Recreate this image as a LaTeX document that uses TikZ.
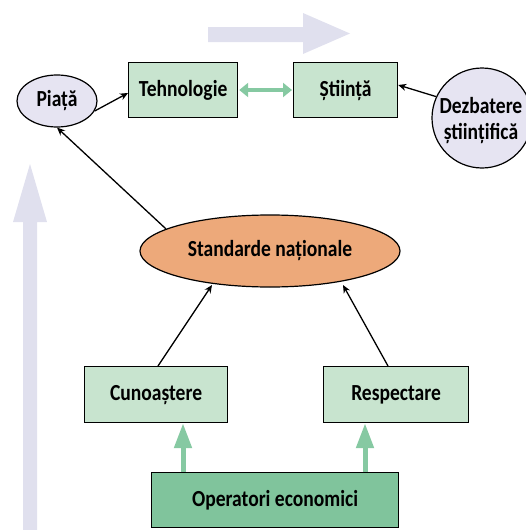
\documentclass[tikz,border=0pt]{standalone}
\usepackage{fontspec}
\setmainfont{Carlito}[FakeStretch=0.85]
\usetikzlibrary{arrows.meta,shapes.geometric}
\definecolor{boxgreen}{HTML}{C8E4CF}
\definecolor{opgreen}{HTML}{80C49C}
\definecolor{arrgreen}{HTML}{86C9A2}
\definecolor{lav}{HTML}{E6E4F2}
\definecolor{bigarr}{HTML}{E0E0EE}
\definecolor{orangefill}{HTML}{EDA97A}
\tikzset{
  every node/.style={font=\bfseries\fontsize{23}{26}\selectfont, inner sep=0pt},
  gbox/.style={draw=black, line width=1.2pt, fill=boxgreen, rectangle, anchor=north west},
  oval/.style={draw=black, line width=1.2pt, fill=lav, ellipse},
  conn/.style={line width=1.3pt, -{Stealth[length=8pt,width=7pt]}},
}
\begin{document}
\begin{tikzpicture}[x=1pt,y=-1pt]
\useasboundingbox (0,0) rectangle (526,530);
% big background arrows
\fill[bigarr] (208,27) -- (303,27) -- (303,13) -- (350,33.5) -- (303,54) -- (303,42) -- (208,42) -- cycle;
\fill[bigarr] (23,530) -- (23,222) -- (13,222) -- (30,164) -- (47,222) -- (37,222) -- (37,530) -- cycle;
% nodes
\node[oval, minimum width=80pt, minimum height=52pt] (piata) at (57,101) {Piață};
\node[gbox, minimum width=109pt, minimum height=55pt] (teh) at (128,62) {};
\node at (teh.center) {Tehnologie};
\node[gbox, minimum width=104pt, minimum height=55pt] (sti) at (293,62) {};
\node at (sti.center) {Știință};
\node[draw=black, line width=1.2pt, fill=lav, circle, minimum size=100pt] (dez) at (482,118) {};
\node[align=center, font=\bfseries\fontsize{23}{26}\selectfont] (dezt) at (481,121) {Dezbatere\\științifică};
\node[draw=black, line width=1.2pt, fill=orangefill, ellipse, minimum width=260pt, minimum height=72pt] (std) at (270,251) {Standarde naționale};
\node[gbox, minimum width=143pt, minimum height=56pt] (cun) at (84,366) {};
\node at (cun.center) {Cunoaștere};
\node[gbox, minimum width=145pt, minimum height=56pt] (res) at (323,366) {};
\node at (res.center) {Respectare};
\node[gbox, fill=opgreen, minimum width=247pt, minimum height=55pt] (op) at (151,472) {};
\node at (op.center) {Operatori economici};
% connectors
\draw[conn] (piata.-15) -- (teh.west |- 0,93);
\draw[conn] (dez.155) -- (sti.east |- 0,85);
\draw[arrgreen, line width=3.5pt, {Triangle[length=9pt,width=14pt]}-{Triangle[length=9pt,width=14pt]}, shorten <=1pt, shorten >=1pt] (teh.east |- 0,90) -- (sti.west |- 0,90);
\draw[conn] (std.168) -- (piata.south);
\draw[conn] (cun.north -| 158,0) -- (212,285);
\draw[conn] (res.north -| 388,0) -- (343,285);
\draw[arrgreen, line width=5pt, -{Triangle[length=25pt,width=17pt]}] (op.north -| 183,0) -- (cun.south -| 183,0);
\draw[arrgreen, line width=5pt, -{Triangle[length=25pt,width=17pt]}] (op.north -| 365,0) -- (res.south -| 365,0);
\end{tikzpicture}
\end{document}
